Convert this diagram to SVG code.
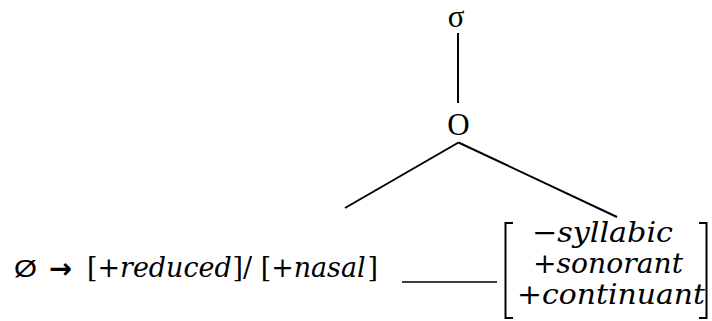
<svg xmlns="http://www.w3.org/2000/svg" width="712" height="321" viewBox="0 0 712 321">
<style>
.tree{font-family:"Liberation Serif","Times New Roman",serif;font-size:31px;fill:#000}
.m{font-family:"DejaVu Serif","Liberation Serif",serif;font-size:28px;fill:#000}
.i{font-style:italic}
.ln{stroke:#000;stroke-width:2;fill:none}
</style>
<rect width="712" height="321" fill="#fff"/>
<g id="connectors">
<line class="ln" x1="458" y1="33" x2="458" y2="103"/>
<line class="ln" x1="458.5" y1="142.5" x2="345" y2="208"/>
<line class="ln" x1="458.5" y1="142.5" x2="617" y2="217"/>
</g>
<g id="sigma"><text class="tree" x="456" y="27" text-anchor="middle">σ</text></g>
<g id="onset"><text class="tree" x="458.5" y="135" text-anchor="middle" font-size="32">O</text></g>
<g id="rule">
<text x="14" y="277" font-family="Liberation Sans, Arial, sans-serif" font-size="24" textLength="23" lengthAdjust="spacingAndGlyphs">Ø</text>
<text x="49" y="278" font-family="DejaVu Sans, sans-serif" font-size="28" font-weight="bold" textLength="23" lengthAdjust="spacingAndGlyphs">→</text>
<text class="m" x="87" y="277" font-size="27" textLength="291" lengthAdjust="spacingAndGlyphs">[+<tspan class="i">reduced</tspan><tspan dx="1">]/ [+</tspan><tspan class="i">nasal</tspan><tspan dx="2">]</tspan></text>
<line x1="402" y1="282" x2="497" y2="282" stroke="#000" stroke-width="1.5"/>
<path class="ln" d="M513,223 H505.5 V318 H513" stroke-width="2"/>
<path class="ln" d="M699,223 H706.5 V318 H699" stroke-width="2"/>
<text class="m" x="532" y="242" textLength="141" lengthAdjust="spacingAndGlyphs">−<tspan class="i">syllabic</tspan></text>
<text class="m" x="533" y="273" textLength="150" lengthAdjust="spacingAndGlyphs">+<tspan class="i">sonorant</tspan></text>
<text class="m" x="517" y="304" textLength="188" lengthAdjust="spacingAndGlyphs">+<tspan class="i">continuant</tspan></text>
</g>
</svg>
